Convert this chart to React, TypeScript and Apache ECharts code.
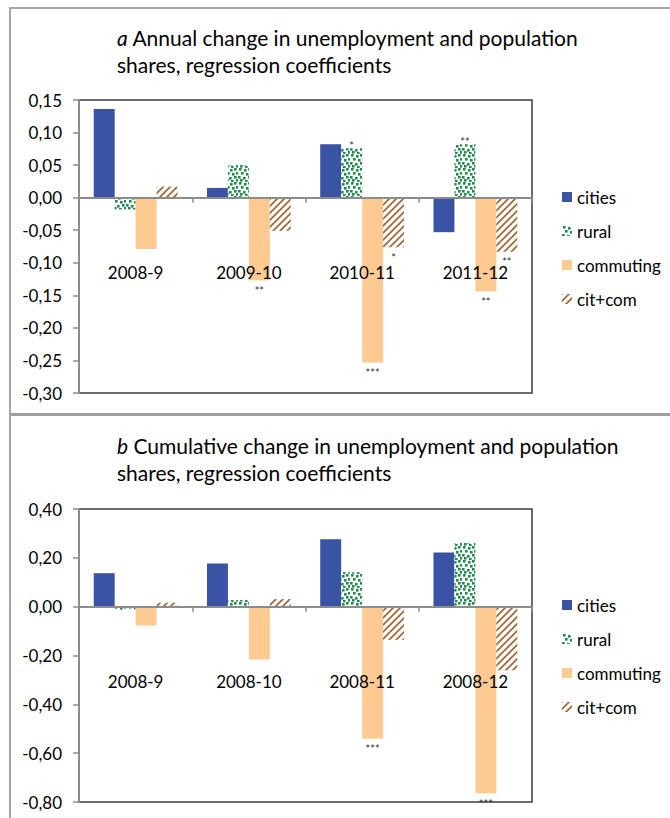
import React, { useEffect, useRef } from "react";
import * as echarts from "echarts";

// Panel a: annual change
const catsA = ["2008-9", "2009-10", "2010-11", "2011-12"];
const citiesA = [0.136, 0.015, 0.082, -0.053];
const ruralA = [-0.018, 0.05, 0.076, 0.082];
const commutingA = [-0.079, -0.127, -0.253, -0.144];
const citcomA = [0.017, -0.051, -0.076, -0.083];
const sigCitiesA = ["", "", "", ""];
const sigRuralA = ["", "", "*", "**"];
const sigCommutingA = ["", "**", "***", "**"];
const sigCitcomA = ["", "", "*", "**"];

// Panel b: cumulative change
const catsB = ["2008-9", "2008-10", "2008-11", "2008-12"];
const citiesB = [0.137, 0.177, 0.276, 0.222];
const ruralB = [-0.014, 0.027, 0.141, 0.261];
const commutingB = [-0.077, -0.216, -0.541, -0.764];
const citcomB = [0.016, 0.031, -0.136, -0.26];
const sigCitiesB = ["", "", "", ""];
const sigRuralB = ["", "", "", ""];
const sigCommutingB = ["", "", "***", "***"];
const sigCitcomB = ["", "", "", ""];

const seriesNames = ["cities", "rural", "commuting", "cit+com"];
const titleA = "{i|a} Annual change in unemployment and population\nshares, regression coefficients";
const titleB = "{i|b} Cumulative change in unemployment and population\nshares, regression coefficients";

const FONT = "Lato, 'Open Sans', sans-serif";

function dotTile(): HTMLCanvasElement {
  const c = document.createElement("canvas");
  c.width = 14;
  c.height = 14;
  const g = c.getContext("2d")!;
  g.fillStyle = "#ffffff";
  g.fillRect(0, 0, 14, 14);
  g.fillStyle = "#1f8a4c";
  const dots = [
    [1, 0], [6, 1], [10, 0], [3, 4], [8, 5], [12, 4],
    [0, 8], [5, 9], [10, 8], [2, 11], [7, 12], [12, 11],
  ];
  dots.forEach(([x, y]) => g.fillRect(x, y, 2.6, 2.6));
  return c;
}

function stripeTile(): HTMLCanvasElement {
  const c = document.createElement("canvas");
  c.width = 7;
  c.height = 7;
  const g = c.getContext("2d")!;
  g.fillStyle = "#ffffff";
  g.fillRect(0, 0, 7, 7);
  g.strokeStyle = "#a3693a";
  g.lineWidth = 1.8;
  g.beginPath();
  g.moveTo(-1, 8);
  g.lineTo(8, -1);
  g.moveTo(-4, 4);
  g.lineTo(4, -4);
  g.moveTo(3, 11);
  g.lineTo(11, 3);
  g.stroke();
  return c;
}

const fmt = (v: number) => {
  const x = Math.abs(v) < 1e-9 ? 0 : v;
  return x.toFixed(2).replace(".", ",");
};

export default function App() {
  const ref = useRef<HTMLDivElement>(null);

  useEffect(() => {
    if (!ref.current) return;
    const chart = echarts.init(ref.current, undefined, { renderer: "svg" });

    const colors: any[] = [
      "#3a53a4",
      { image: dotTile(), repeat: "repeat" },
      "#fdca92",
      { image: stripeTile(), repeat: "repeat" },
    ];

    // asterisks sit high in their text box, so the gap differs above and below a bar
    const makeSeries = (gi: number, vals: number[][], sigs: string[][]) =>
      vals.map((v, k) => ({
        name: seriesNames[k],
        type: "bar",
        xAxisIndex: gi,
        yAxisIndex: gi,
        data: v.map((val) => ({ value: val, label: { distance: val < 0 ? 5 : -2 } })),
        barGap: "0%",
        barCategoryGap: "26%",
        itemStyle: { color: colors[k] },
        label: {
          show: true,
          position: "outside",
          fontSize: 11,
          lineHeight: 10,
          color: "#333",
          fontFamily: FONT,
          formatter: (p: any) => sigs[k][p.dataIndex],
        },
      }));

    const grids = [
      { left: 79, top: 100, width: 453, height: 293 },
      { left: 79, top: 509, width: 453, height: 293 },
    ].map((g) => ({ ...g, show: true, borderColor: "#3c3c3c", borderWidth: 1.5, backgroundColor: "transparent" }));

    // category labels sit well below the zero line, over the bars
    const xAxis = [catsA, catsB].map((cats, gi) => ({
      type: "category",
      gridIndex: gi,
      data: cats,
      z: 5,
      axisLine: { onZero: true, lineStyle: { color: "#8c8c8c", width: 2 } },
      axisTick: { show: true, length: 5, lineStyle: { color: "#8c8c8c", width: 1.5 } },
      axisLabel: { margin: -129, fontSize: 17, color: "#000", fontFamily: FONT },
    }));

    const yAxis = [
      { min: -0.3, max: 0.15, interval: 0.05 },
      { min: -0.8, max: 0.4, interval: 0.2 },
    ].map((r, gi) => ({
      type: "value",
      gridIndex: gi,
      ...r,
      axisLine: { show: true, lineStyle: { color: "#8c8c8c", width: 2 } },
      axisTick: { show: true, length: 6, lineStyle: { color: "#8c8c8c", width: 1.5 } },
      splitLine: { show: false },
      axisLabel: { margin: 17, fontSize: 17, color: "#000", fontFamily: FONT, formatter: fmt },
    }));

    const legendBase = {
      data: seriesNames,
      orient: "vertical",
      left: 562,
      padding: 0,
      icon: "rect",
      itemWidth: 10,
      itemHeight: 10,
      itemGap: 14,
      selectedMode: false,
      textStyle: { fontSize: 17, lineHeight: 20, color: "#000", fontFamily: FONT },
    };

    const titleText = (txt: string, y: number) => ({
      type: "text",
      x: 117,
      y,
      style: {
        text: txt,
        fill: "#000",
        fontSize: 21,
        fontFamily: FONT,
        lineHeight: 27,
        rich: { i: { fontStyle: "italic", fontSize: 21, fontFamily: FONT } },
      },
    });

    chart.setOption({
      animation: false,
      grid: grids,
      xAxis,
      yAxis,
      legend: [
        { ...legendBase, top: 187 },
        { ...legendBase, top: 595 },
      ],
      series: [
        ...makeSeries(0, [citiesA, ruralA, commutingA, citcomA], [sigCitiesA, sigRuralA, sigCommutingA, sigCitcomA]),
        ...makeSeries(1, [citiesB, ruralB, commutingB, citcomB], [sigCitiesB, sigRuralB, sigCommutingB, sigCitcomB]),
      ],
      graphic: [
        { type: "line", shape: { x1: 9, y1: 8, x2: 670, y2: 8 }, style: { stroke: "#a6a6a6", lineWidth: 2 } },
        { type: "line", shape: { x1: 10, y1: 8, x2: 10, y2: 818 }, style: { stroke: "#a6a6a6", lineWidth: 2 } },
        { type: "line", shape: { x1: 10, y1: 414.5, x2: 670, y2: 414.5 }, style: { stroke: "#a0a0a0", lineWidth: 3 } },
        titleText(titleA, 23.5),
        titleText(titleB, 431.5),
      ],
    });

    return () => chart.dispose();
  }, []);

  return (
    <div
      ref={ref}
      style={{ position: "absolute", left: 0, top: 0, width: 670, height: 818, background: "#fff" }}
    />
  );
}
